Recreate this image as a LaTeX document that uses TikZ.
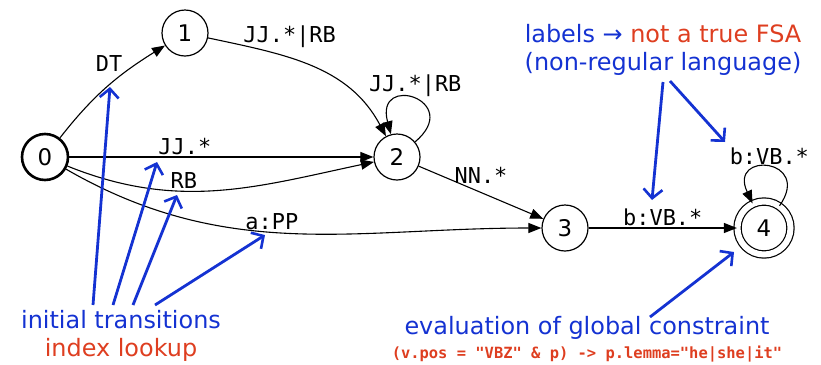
\documentclass[tikz,border=0pt]{standalone}
\usepackage{fontspec}
\setmainfont{DejaVu Sans}
\setmonofont{DejaVu Sans Mono}
\usepackage{xcolor}
\usetikzlibrary{arrows.meta}
\definecolor{noteblue}{RGB}{20,50,210}
\definecolor{notered}{RGB}{222,62,32}
\tikzstyle{state}=[circle, draw, line width=1.2bp, minimum size=46bp, inner sep=0pt, font=\fontsize{23}{26}\selectfont]
\tikzstyle{trans}=[-{Triangle[length=13bp,width=10bp]}, line width=1.1bp]
\tikzstyle{lab}=[font=\ttfamily\fontsize{22}{24}\selectfont, inner sep=2bp]
\tikzstyle{note}=[-{Straight Barb[length=9bp,width=19bp,line width=2.6bp]}, line width=2.8bp, noteblue]
\tikzstyle{notetext}=[font=\fontsize{24}{28}\selectfont, align=center, text=noteblue, inner sep=0pt]

\begin{document}
\begin{tikzpicture}[x=1bp,y=1bp]
\useasboundingbox (0,0) rectangle (821,-364);
% states
\node[state, line width=2.6bp] (s0) at (45,-157) {0};
\foreach \n/\x/\y in {1/185/-33, 2/397/-157, 3/565/-228} {
	\node[state] (s\n) at (\x,\y) {\n};
}
\node[state, double, double distance=6bp, minimum size=53bp] (s4) at (764,-228) {4};
% transitions
\draw[trans] (s0) to[out=52,in=212] node[lab, above left, pos=0.66, inner sep=1bp] {DT} (s1);
\draw[trans] (s1) to[out=-12,in=118] node[lab, above, pos=0.38, yshift=8bp] {JJ.*|RB} (s2);
\draw[trans] (s2) to[out=40,in=105,looseness=6.5] node[lab, above] {JJ.*|RB} (s2);
\draw[trans] (s0) -- node[lab, above, pos=0.38] {JJ.*} (s2);
\draw[trans] (s0) to[out=-22,in=192] node[lab, above, pos=0.38] {RB} (s2);
\draw[trans] (s0) to[out=-30,in=180] node[lab, above, pos=0.45] {a:PP} (s3);
\draw[trans] (s2) -- node[lab, above, yshift=6bp] {NN.*} (s3);
\draw[trans] (s3) -- node[lab, above] {b:VB.*} (s4);
\draw[trans] (s4) to[out=55,in=115,looseness=5.5] node[lab, above] {b:VB.*} (s4);
% notes
\node[notetext] (fsa) at (663,-50) {labels → \textcolor{notered}{not a true FSA}\\(non-regular language)};
\node[notetext] (init) at (121,-336) {initial transitions\\\textcolor{notered}{index lookup}};
\node[notetext] (eval) at (587,-328) {evaluation of global constraint};
\node[font=\ttfamily\bfseries\fontsize{15.5}{18}\selectfont, text=notered] (cons) at (587,-354) {(v.pos = "VBZ" \& p) -> p.lemma="he|she|it"};
\foreach \i/\sx/\tx/\ty in {1/93/110/87, 2/113/157/162, 3/133/177/195, 4/155/265/235} {
	\coordinate (ia\i) at (\sx,-305);
	\coordinate (ib\i) at (\tx,-\ty);
	\draw[note] (ia\i) -- (ib\i);
}
\coordinate (fa1) at (663,-82);
\coordinate (fb1) at (652,-200);
\coordinate (fa2) at (670,-81);
\coordinate (fb2) at (725,-142);
\draw[note] (fa1) -- (fb1);
\draw[note] (fa2) -- (fb2);
\coordinate (ea) at (650,-317);
\coordinate (eb) at (734,-252);
\draw[note] (ea) -- (eb);
\end{tikzpicture}
\end{document}
